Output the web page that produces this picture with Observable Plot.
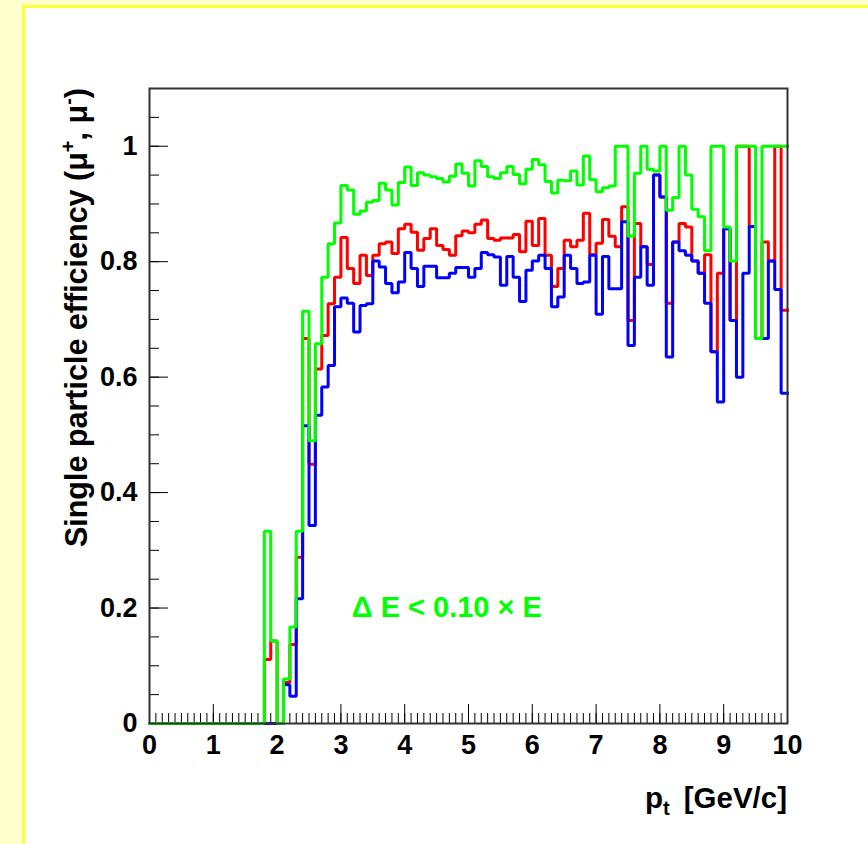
<!DOCTYPE html>
<html><head><meta charset="utf-8">
<script src="https://cdn.jsdelivr.net/npm/d3@7"></script>
<script src="https://cdn.jsdelivr.net/npm/@observablehq/plot@0.6"></script>
<style>
html,body{margin:0;padding:0;width:868px;height:844px;overflow:hidden;background:#ffffcc;}
#border{position:absolute;left:22px;top:5px;width:900px;height:900px;border:3px solid #ffff33;background:#ffffff;}
#chart{position:absolute;left:0;top:0;}
</style></head><body><div id="border"></div><div id="chart"></div>
<script>
// bin lower edges: 0.0, 0.1, ..., 9.9 (100 bins of width 0.1 GeV/c)
const binWidth = 0.1;
const green = [
 0,0,0,0,0,0,0,0,0,0, 0,0,0,0,0,0,0,0,0.333,0.143,
 0,0.077,0.167,0.333,0.714,0.49,0.658,0.773,0.831,0.867,
 0.932,0.924,0.882,0.888,0.903,0.906,0.936,0.924,0.898,0.937,
 0.964,0.932,0.954,0.950,0.947,0.944,0.938,0.948,0.969,0.953,
 0.931,0.975,0.965,0.947,0.944,0.954,0.965,0.951,0.935,0.960,
 0.977,0.968,0.939,0.919,0.941,0.940,0.957,0.933,0.983,0.942,
 0.921,0.928,0.931,1.0,1.0,0.844,0.953,1.0,0.960,0.957,
 1.0,0.889,0.911,1.0,0.950,0.891,0.878,0.819,1.0,1.0,
 0.860,0.801,1.0,1.0,1.0,0.667,1.0,1.0,1.0,1.0];
const red = [
 0,0,0,0,0,0,0,0,0,0, 0,0,0,0,0,0,0,0,0.111,0.143,
 0,0.071,0.137,0.288,0.667,0.449,0.614,0.672,0.727,0.773,
 0.842,0.788,0.762,0.811,0.776,0.811,0.831,0.834,0.814,0.857,
 0.865,0.851,0.820,0.840,0.857,0.828,0.821,0.811,0.845,0.853,
 0.850,0.865,0.872,0.840,0.837,0.841,0.841,0.847,0.817,0.870,
 0.828,0.875,0.811,0.757,0.788,0.837,0.826,0.837,0.884,0.812,
 0.832,0.873,0.844,0.826,0.895,0.698,0.866,0.826,0.795,0.950,
 0.912,0.728,0.834,0.866,0.860,0.801,0.780,0.812,0.644,0.780,
 0.857,0.698,1.0,1.0,0.861,0.667,0.834,0.801,1.0,0.716];
const blue = [
 0,0,0,0,0,0,0,0,0,0, 0,0,0,0,0,0,0,0,0,0,
 0,0.067,0.047,0.216,0.516,0.343,0.534,0.583,0.620,0.722,
 0.737,0.728,0.678,0.724,0.727,0.801,0.791,0.762,0.746,0.765,
 0.816,0.788,0.757,0.792,0.792,0.772,0.772,0.780,0.790,0.790,
 0.773,0.788,0.816,0.812,0.808,0.759,0.809,0.773,0.731,0.785,
 0.801,0.811,0.788,0.722,0.739,0.811,0.788,0.762,0.765,0.811,
 0.709,0.809,0.753,0.753,0.869,0.655,0.773,0.826,0.759,0.950,
 0.912,0.635,0.834,0.819,0.811,0.801,0.780,0.728,0.644,0.557,
 0.857,0.698,0.600,0.780,0.861,0.667,0.667,0.801,0.752,0.572];

const xMajorTicks = [0,1,2,3,4,5,6,7,8,9,10];
const xMinorTicks = d3.range(0, 100).map(i => i / 10);
const yMajorTicks = [0, 0.2, 0.4, 0.6, 0.8, 1];
const yMinorTicks = d3.range(0, 23).map(i => i * 0.05);
const yTickLabels = ["0", "0.2", "0.4", "0.6", "0.8", "1"];
const annotation = {x: 3.17, y: 0.2};

function steps(vals) {
  const pts = vals.map((v, i) => ({x: i * binWidth, y: v}));
  pts.push({x: vals.length * binWidth, y: vals[vals.length - 1]});
  return pts;
}

const W = 868, H = 844;
const ml = 149, mr = W - 787, mt = 88, mb = H - 723;
const pxX = (10 - 0) / (787 - 149);  // data units per px
const pxY = 1.1 / (723 - 88);

const font = "Liberation Sans, Arial, Helvetica, sans-serif";
const chart = Plot.plot({
  width: W, height: H,
  marginLeft: ml, marginRight: mr, marginTop: mt, marginBottom: mb,
  x: {domain: [0, 10]},
  y: {domain: [0, 1.1]},
  style: {fontFamily: font, background: "transparent", overflow: "visible"},
  marks: [
    Plot.ruleY(yMinorTicks, {y: d => d, x1: 0, x2: 10 * pxX, stroke: "#000", strokeWidth: 1}),
    Plot.ruleY(yMajorTicks, {y: d => d, x1: 0, x2: 19 * pxX, stroke: "#000", strokeWidth: 1}),
    Plot.ruleX(xMinorTicks, {x: d => d, y1: 0, y2: 10 * pxY, stroke: "#000", strokeWidth: 1}),
    Plot.ruleX(xMajorTicks, {x: d => d, y1: 0, y2: 19 * pxY, stroke: "#000", strokeWidth: 1}),
    Plot.line(steps(red), {x: "x", y: "y", curve: "step-after", stroke: "#ff0000", strokeWidth: 3, strokeLinejoin: "miter", strokeLinecap: "square"}),
    Plot.line(steps(blue), {x: "x", y: "y", curve: "step-after", stroke: "#0000ff", strokeWidth: 3, strokeLinejoin: "miter", strokeLinecap: "square"}),
    Plot.line(steps(green), {x: "x", y: "y", curve: "step-after", stroke: "#00ff00", strokeWidth: 3, strokeLinejoin: "miter", strokeLinecap: "square"}),
    Plot.frame({stroke: "#333", strokeWidth: 2}),
    Plot.axisX({ticks: xMajorTicks, tickSize: 0, tickPadding: 11, tickFormat: d => String(d), fontSize: 27, fontWeight: "bold", fill: "#000", label: null}),
    Plot.axisY({ticks: yMajorTicks, tickSize: 0, tickPadding: 12, tickFormat: (d, i) => yTickLabels[i], fontSize: 27, fontWeight: "bold", fill: "#000", label: null}),
    Plot.text([annotation], {x: "x", y: "y", text: () => "\u0394 E < 0.10 \u00d7 E", textAnchor: "start", fill: "#00ff00", fontSize: 29, fontWeight: "bold"})
  ]
});
document.getElementById("chart").appendChild(chart);

const svg = d3.select(chart);
// y-axis title
const yt = svg.append("text")
  .attr("transform", "translate(87,88) rotate(-90)")
  .attr("text-anchor", "end")
  .attr("font-family", font).attr("font-weight", "bold").attr("font-size", 30.5).attr("fill", "#000");
yt.append("tspan").text("Single particle efficiency (\u03bc");
yt.append("tspan").attr("dy", -12).attr("font-size", 20).text("+");
yt.append("tspan").attr("dy", 12).text(", \u03bc");
yt.append("tspan").attr("dy", -12).attr("font-size", 20).text("-");
yt.append("tspan").attr("dy", 12).text(")");
// x-axis title
const xt = svg.append("text")
  .attr("x", 787).attr("y", 808)
  .attr("text-anchor", "end")
  .attr("font-family", font).attr("font-weight", "bold").attr("font-size", 29.5).attr("fill", "#000");
xt.append("tspan").text("p");
xt.append("tspan").attr("dy", 7).attr("font-size", 20).text("t");
xt.append("tspan").attr("dy", -7).text("\u2009 [GeV/c]");
</script>
</body></html>
